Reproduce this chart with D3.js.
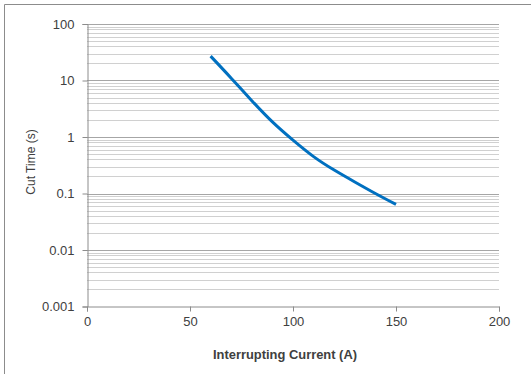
<!DOCTYPE html>
<html>
<head>
<meta charset="utf-8">
<script src="https://cdn.jsdelivr.net/npm/d3@7"></script>
<style>
  body { margin: 0; background: #fff; }
  svg { display: block; }
  text { font-family: "Liberation Sans", Arial, sans-serif; fill: #404040; }
</style>
</head>
<body>
<svg id="chart" width="531" height="374"></svg>
<script>
// fuse curve
var current = [60, 70, 80, 90, 100, 110, 120, 130, 140, 150];
var cutTime = [27, 11, 4.4, 1.85, 0.88, 0.45, 0.26, 0.16, 0.1, 0.064];
var xTicks = [0, 50, 100, 150, 200];
var yTicks = [100, 10, 1, 0.1, 0.01, 0.001];

var svg = d3.select("#chart");
var margin = { left: 87, top: 24, right: 499, bottom: 306.5 };

// chart frame, only top and left edges are visible
svg.append("path")
  .attr("d", "M4.5,540 L4.5,4.5 L540,4.5")
  .attr("fill", "none")
  .attr("stroke", "#8c8c8c")
  .attr("stroke-width", 1);

var x = d3.scaleLinear().domain([0, 200]).range([margin.left, margin.right]);
var y = d3.scaleLog().domain([0.001, 100]).range([margin.bottom, margin.top]);

// minor grid lines 2..9 of each decade
var minor = [];
yTicks.slice(1).forEach(function(d) {
  for (var k = 2; k <= 9; k++) minor.push(d * k);
});
svg.append("g").selectAll("line")
  .data(minor)
  .enter().append("line")
  .attr("x1", margin.left).attr("x2", margin.right)
  .attr("y1", d => Math.round(y(d)) + 0.5).attr("y2", d => Math.round(y(d)) + 0.5)
  .attr("stroke", "#d0d0d0");

// major grid
svg.append("g").selectAll("line")
  .data(yTicks.filter(d => d > 0.001))
  .enter().append("line")
  .attr("x1", margin.left).attr("x2", margin.right)
  .attr("y1", d => Math.round(y(d)) + 0.5).attr("y2", d => Math.round(y(d)) + 0.5)
  .attr("stroke", "#a6a6a6");

// y axis
var yAxis = svg.append("g")
  .attr("transform", "translate(" + (margin.left + 0.5) + ",0)")
  .call(d3.axisLeft(y).tickValues(yTicks).tickFormat(d3.format("~g")).tickSize(5).tickPadding(8));

// x axis
var xAxis = svg.append("g")
  .attr("transform", "translate(0," + margin.bottom + ")")
  .call(d3.axisBottom(x).tickValues(xTicks).tickSize(5).tickPadding(5));

[yAxis, xAxis].forEach(function(a) {
  a.selectAll("path, line").attr("stroke", "#8c8c8c");
  a.selectAll("text").style("font-size", "13px").attr("fill", "#404040");
});

// curve
var line = d3.line()
  .x(function(d, i) { return x(current[i]); })
  .y(function(d) { return y(d); })
  .curve(d3.curveNatural);

svg.append("path")
  .attr("d", line(cutTime))
  .attr("fill", "none")
  .attr("stroke", "#0070c0")
  .attr("stroke-width", 3);

// axis titles
svg.append("text")
  .attr("x", 285)
  .attr("y", 359)
  .attr("text-anchor", "middle")
  .attr("textLength", 144)
  .attr("lengthAdjust", "spacingAndGlyphs")
  .style("font-size", "13px")
  .style("font-weight", "bold")
  .attr("fill", "#262626")
  .text("Interrupting Current (A)");

svg.append("text")
  .attr("transform", "translate(35,162) rotate(-90)")
  .attr("text-anchor", "middle")
  .style("font-size", "12px")
  .attr("fill", "#404040")
  .text("Cut Time (s)");
</script>
</body>
</html>
